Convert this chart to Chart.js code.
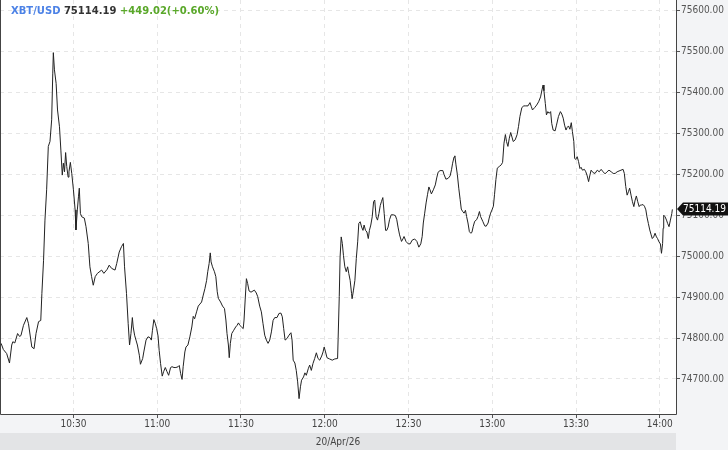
<!DOCTYPE html>
<html>
<head>
<meta charset="utf-8">
<script src="https://cdn.jsdelivr.net/npm/chart.js@4.4.1/dist/chart.umd.min.js"></script>
<style>
  html, body { margin: 0; padding: 0; background: #f3f4f6; }
  #wrap { width: 728px; height: 450px; }
</style>
</head>
<body>
<div id="wrap"><canvas id="priceChart" width="728" height="450"></canvas></div>
<script>
// Header values
const symbol = 'XBT/USD';
const lastPrice = 75114.19;
const changeText = '+449.02(+0.60%)';
const sessionDate = '20/Apr/26';

// Line vertices: minutes after 10:00 and price
const minutes = [
  4.1, 4.9, 6.1, 7.1, 7.9, 8.3, 9.0, 10.0, 10.7, 11.2, 12.1, 13.3, 13.9, 15.1, 15.9, 16.6, 17.5, 18.3, 18.7, 19.3,
  19.8, 20.4, 21.0, 21.6, 22.2, 22.6, 22.8, 23.2, 23.8, 24.3, 25.0, 25.5, 26.0, 26.4, 26.8, 27.2, 27.6, 28.1, 28.4, 28.9,
  29.4, 30.0, 30.6, 30.9, 31.4, 31.8, 32.1, 32.5, 33.0, 33.9, 34.5, 35.3, 35.9, 36.5, 37.1, 37.8, 38.6, 40.1, 40.9, 42.1,
  42.8, 43.7, 44.9, 45.5, 46.4, 47.2, 47.9, 48.3, 49.0, 49.6, 50.1, 50.6, 51.1, 51.4, 51.9,
  52.4, 52.9, 53.6, 54.0, 54.8, 55.2, 56.0, 56.7, 57.4, 57.9, 58.3, 58.8, 59.3, 59.8, 60.3, 60.7, 61.2, 61.8, 62.3, 62.9,
  63.5, 64.1, 64.8, 65.3, 66.0, 66.7, 67.5, 67.9, 68.4, 68.9, 69.3, 69.9, 70.3, 71.0, 71.7, 72.4, 72.9, 73.4, 74.1, 74.7,
  75.3, 75.9, 76.5, 77.1, 77.7, 78.1, 78.6, 79.0, 79.3, 79.8, 80.5, 81.0, 81.5, 81.9, 82.7, 83.4, 84.1, 84.6, 85.0, 85.5,
  85.8, 86.2, 86.7, 87.4, 88.1, 88.6, 89.1, 89.6, 90.2, 90.8, 91.1, 91.5, 91.95, 92.4, 92.9, 93.6, 94.3, 94.8, 95.5, 96.0,
  96.7, 97.3, 97.9, 98.5, 99.1, 99.7, 100.3, 100.9, 101.5, 102.1, 102.9, 103.6, 104.3, 104.8, 105.3, 105.8, 106.5, 107.2, 107.9, 108.3,
  108.7, 109.3, 109.8, 110.3, 110.8, 111.3, 111.7, 112.4, 112.9, 113.4, 114.1, 114.6, 115.2, 115.8, 116.4, 117.0, 117.6, 118.2, 118.9, 119.4,
  119.8, 120.3, 120.8, 121.7, 122.7, 123.6, 124.6, 124.8, 125.2, 125.5, 125.9, 126.3, 126.7, 127.2, 127.7, 128.2, 128.6, 129.1, 129.6, 129.8,
  130.3, 130.8, 131.3, 131.8, 132.2, 132.7, 133.2, 133.7, 134.1, 134.6, 135.1, 135.6, 136.0, 136.5, 137.0, 137.5, 137.9, 138.4, 138.9, 139.4,
  139.9, 140.3, 140.8, 141.3, 141.8, 142.2, 142.7, 143.2,
  143.8, 144.6, 145.3, 145.8, 146.3, 146.8, 147.5, 148.0, 148.4, 149.1, 149.9, 150.6, 151.3, 152.2, 153.0, 153.7, 154.4, 154.9, 155.3, 155.8,
  156.3, 156.8, 157.3, 157.7, 158.2, 158.9, 159.6, 160.1, 160.6, 161.3, 162.3, 162.7, 163.4, 164.2, 164.9, 165.4, 165.8, 166.3, 166.6, 167.0,
  167.5, 168.0, 168.5, 168.9, 169.4, 169.9, 170.4, 170.8, 171.3, 171.8, 172.3, 172.7, 173.2, 173.7, 174.4, 174.9, 175.4, 175.8, 176.6, 177.3,
  177.8, 178.5, 178.9, 179.4, 179.9, 180.4, 180.8, 181.3, 181.8, 182.5, 183.2, 183.7, 184.2, 184.7, 185.1, 185.6, 186.1, 186.6, 187.05, 187.5,
  188.2, 188.9, 189.4,
  189.9, 190.6, 191.3, 192.0, 192.8, 193.5, 194.0, 194.4, 195.2, 195.9, 196.6, 197.3, 197.8, 198.2, 198.5, 199.0, 199.4, 199.9, 200.4, 200.9,
  201.3, 201.8, 202.5, 203.0, 203.7, 204.4, 204.9, 205.4, 205.9, 206.4, 206.8, 207.3, 207.8, 208.3, 208.7, 209.2, 209.5, 209.9, 210.4, 210.9,
  211.4, 211.8, 212.3, 213.0, 213.5, 214.0, 214.5, 214.9, 215.4, 216.1, 216.8, 217.6, 218.3, 219.0, 219.7, 220.4, 221.1, 221.8, 222.6, 223.3,
  224.0, 224.7, 225.4, 226.1, 226.85, 227.3, 227.8, 228.3, 228.8, 229.2, 229.7, 230.2, 230.7, 231.1, 231.6, 232.1, 232.6, 233.05, 233.5, 234.0,
  234.5, 235.0, 235.4, 235.9, 236.4, 236.9, 237.3, 237.8, 238.3, 238.8, 239.2, 239.7, 240.2, 240.6, 241.0, 241.2, 241.4, 241.9, 242.4, 242.8,
  243.3, 243.8, 244.3, 244.5
];
const prices = [
  74787, 74772, 74762, 74739, 74783, 74791, 74788, 74811, 74804, 74806, 74831, 74850, 74835, 74778, 74774, 74811, 74840, 74843, 74909, 74990,
  75088, 75162, 75268, 75280, 75333, 75447, 75497, 75455, 75422, 75357, 75316, 75259, 75198, 75227, 75206, 75253, 75219, 75193, 75206, 75229,
  75202, 75162, 75113, 75064, 75113, 75145, 75166, 75104, 75096, 75093, 75072, 75031, 74974, 74950, 74929, 74950, 74958, 74966, 74958, 74968,
  74978, 74970, 74966, 74982, 75010, 75023, 75031, 74974, 74909, 74836, 74783, 74811, 74850, 74827, 74807,
  74795, 74783, 74758, 74736, 74750, 74766, 74795, 74803, 74801, 74795, 74819, 74845, 74836, 74823, 74805, 74770, 74738, 74707, 74718, 74728,
  74718, 74709, 74728, 74730, 74728, 74728, 74730, 74733, 74713, 74699, 74730, 74766, 74778, 74783, 74803, 74827, 74853, 74847, 74864, 74878,
  74883, 74888, 74905, 74921, 74941, 74962, 74982, 75008, 74986, 74974, 74962, 74950, 74913, 74897, 74888, 74878, 74872, 74844, 74811, 74783,
  74752, 74787, 74811, 74819, 74827, 74831, 74837, 74831, 74827, 74823, 74844, 74893, 74945, 74933, 74915, 74912, 74915, 74917, 74910, 74901,
  74878, 74864, 74835, 74807, 74795, 74787, 74795, 74815, 74843, 74850, 74850, 74860, 74861, 74852, 74823, 74795, 74799, 74807, 74813, 74795,
  74746, 74739, 74721, 74693, 74652, 74681, 74697, 74705, 74715, 74709, 74725, 74734, 74721, 74738, 74750, 74764, 74750, 74746, 74756, 74766,
  74778, 74766, 74752, 74749, 74746, 74749, 74750, 74799, 74901, 74998, 75047, 75031, 75002, 74974, 74962, 74974, 74958, 74941, 74909, 74896,
  74917, 74941, 74994, 75035, 75080, 75084, 75071, 75063, 75076, 75063, 75059, 75043, 75063, 75076, 75096, 75133, 75137, 75096, 75088, 75104,
  75124, 75133, 75143, 75104, 75063, 75063, 75071, 75089,
  75101, 75101, 75099, 75089, 75069, 75052, 75036, 75042, 75048, 75036, 75030, 75030, 75039, 75042, 75036, 75022, 75030, 75048, 75081, 75105,
  75130, 75150, 75169, 75162, 75152, 75162, 75174, 75191, 75205, 75209, 75209, 75200, 75188, 75190, 75196, 75211, 75227, 75242, 75245, 75223,
  75199, 75166, 75138, 75115, 75109, 75105, 75112, 75097, 75081, 75060, 75056, 75058, 75073, 75085, 75089, 75097, 75109, 75097, 75085, 75074,
  75073, 75081, 75093, 75105, 75113, 75122, 75150, 75187, 75215, 75219, 75223, 75229, 75276, 75297, 75280, 75268, 75288, 75302, 75291, 75280,
  75284, 75297, 75317,
  75341, 75363, 75367, 75367, 75367, 75375, 75365, 75357, 75363, 75369, 75377, 75389, 75406, 75418, 75404, 75373, 75345, 75353, 75349, 75353,
  75324, 75308, 75306, 75320, 75341, 75353, 75347, 75337, 75320, 75308, 75314, 75318, 75310, 75326, 75304, 75280, 75239, 75236, 75243, 75231,
  75214, 75217, 75210, 75212, 75206, 75196, 75182, 75196, 75210, 75204, 75202, 75210, 75206, 75212, 75206, 75201, 75206, 75210, 75206, 75202,
  75202, 75206, 75208, 75210, 75212, 75202, 75170, 75149, 75158, 75166, 75149, 75133, 75121, 75135, 75147, 75133, 75121, 75125, 75125, 75126,
  75122, 75113, 75096, 75080, 75064, 75052, 75043, 75047, 75056, 75047, 75043, 75035, 75030, 75007, 75031, 75068, 75100, 75096, 75088, 75080,
  75072, 75088, 75104, 75114.19
];

// Axis ticks
const timeTicks = [30, 60, 90, 120, 150, 180, 210, 240];
const timeLabels = ['10:30', '11:00', '11:30', '12:00', '12:30', '13:00', '13:30', '14:00'];
const priceTicks = [74700, 74800, 74900, 75000, 75100, 75200, 75300, 75400, 75500, 75600];

const axisFamily = "'DejaVu Sans Condensed', 'DejaVu Sans', sans-serif";

const points = minutes.map(function(m, i) { return { x: m, y: prices[i] }; });

// keep the plot area flush with the canvas edges
function noScalePadding(scale) {
    scale.paddingTop = 0;
    scale.paddingBottom = 0;
    scale.paddingLeft = 0;
    scale.paddingRight = 0;
}

// backgrounds, frame, header text and last price tag
const decorPlugin = {
    id: 'decor',
    beforeDraw: function(chart) {
        const ctx = chart.ctx;
        const area = chart.chartArea;
        ctx.save();
        ctx.fillStyle = '#f3f4f6';
        ctx.fillRect(0, 0, chart.width, chart.height);
        ctx.fillStyle = '#ffffff';
        ctx.fillRect(area.left, area.top, area.right - area.left, area.bottom - area.top);
        ctx.fillStyle = '#e3e4e6';
        ctx.fillRect(0, 433, area.right, chart.height - 433);
        ctx.fillStyle = '#444';
        ctx.font = '10px ' + axisFamily;
        ctx.textAlign = 'center';
        ctx.textBaseline = 'middle';
        ctx.fillText(sessionDate, (area.left + area.right) / 2, 442);
        ctx.restore();
    },
    afterDraw: function(chart) {
        const ctx = chart.ctx;
        const area = chart.chartArea;
        ctx.save();
        // frame
        ctx.strokeStyle = '#444';
        ctx.lineWidth = 1;
        ctx.beginPath();
        ctx.moveTo(area.left + 0.5, area.top);
        ctx.lineTo(area.left + 0.5, area.bottom + 0.5);
        ctx.lineTo(area.right + 0.5, area.bottom + 0.5);
        ctx.lineTo(area.right + 0.5, area.top);
        ctx.stroke();

        // header
        ctx.font = 'bold 10px "DejaVu Sans"';
        ctx.textAlign = 'left';
        ctx.textBaseline = 'middle';
        let x = 11;
        const y = 11;
        const parts = [
            [symbol, '#4c82e6'],
            [lastPrice.toFixed(2), '#333333'],
            [changeText, '#5aa82a']
        ];
        parts.forEach(function(p) {
            ctx.fillStyle = p[1];
            ctx.fillText(p[0], x, y);
            x += ctx.measureText(p[0] + ' ').width;
        });

        // last price tag
        const yv = Math.round(chart.scales.y.getPixelForValue(lastPrice));
        const tip = area.right + 1;
        ctx.fillStyle = '#111';
        ctx.beginPath();
        ctx.moveTo(tip, yv);
        ctx.lineTo(tip + 6, yv - 6.5);
        ctx.lineTo(chart.width, yv - 6.5);
        ctx.lineTo(chart.width, yv + 6.5);
        ctx.lineTo(tip + 6, yv + 6.5);
        ctx.closePath();
        ctx.fill();
        ctx.fillStyle = '#fff';
        ctx.font = '10px ' + axisFamily;
        ctx.fillText(lastPrice.toFixed(2), tip + 6, yv + 0.5);
        ctx.restore();
    }
};

const ctx = document.getElementById('priceChart');
new Chart(ctx, {
    type: 'line',
    data: {
        datasets: [{
            data: points,
            borderColor: '#222',
            borderWidth: 1,
            pointRadius: 0,
            tension: 0,
            fill: false
        }]
    },
    options: {
        responsive: false,
        animation: false,
        devicePixelRatio: 1,
        layout: { padding: 0 },
        plugins: {
            legend: { display: false },
            tooltip: { enabled: false }
        },
        scales: {
            x: {
                type: 'linear',
                position: 'bottom',
                min: 3.7,
                max: 245.8,
                afterBuildTicks: function(scale) {
                    scale.ticks = timeTicks.map(function(v) { return { value: v }; });
                },
                afterFit: function(scale) {
                    scale.height = 36;
                    noScalePadding(scale);
                },
                ticks: {
                    autoSkip: false,
                    maxRotation: 0,
                    padding: 0,
                    color: '#444',
                    font: { family: axisFamily, size: 10 },
                    callback: function(value) { return timeLabels[timeTicks.indexOf(value)]; }
                },
                grid: { color: '#e6e6e6', tickColor: '#555', tickLength: 4, tickBorderDash: [] },
                border: { display: false, dash: [4, 4] }
            },
            y: {
                position: 'right',
                min: 74614.5,
                max: 75625.6,
                afterBuildTicks: function(scale) {
                    scale.ticks = priceTicks.map(function(v) { return { value: v }; });
                },
                afterFit: function(scale) {
                    scale.width = 52;
                    noScalePadding(scale);
                },
                ticks: {
                    padding: 1,
                    color: '#555',
                    font: { family: axisFamily, size: 10 },
                    callback: function(value) { return value.toFixed(2); }
                },
                grid: { color: '#e6e6e6', tickColor: '#555', tickLength: 4, tickBorderDash: [] },
                border: { display: false, dash: [4, 4] }
            }
        }
    },
    plugins: [decorPlugin]
});
</script>
</body>
</html>
